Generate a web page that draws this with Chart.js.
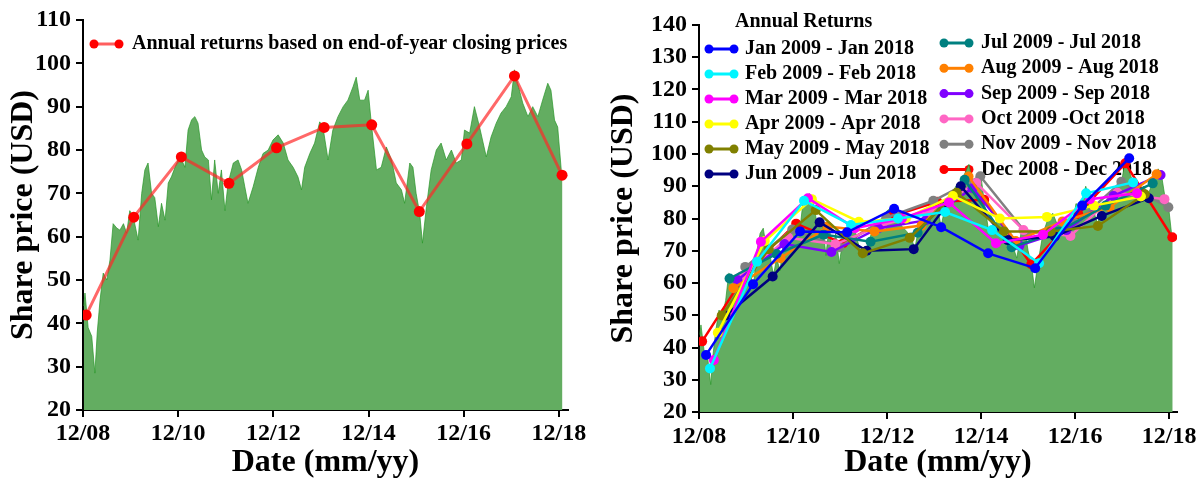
<!DOCTYPE html>
<html lang="en">
<head>
<meta charset="UTF-8" />
<title>Share price and annual returns</title>
<script src="https://cdn.jsdelivr.net/npm/chart.js"></script>
<style>
  body { margin: 0; background: #fff; }
  #wrap { position: relative; width: 1203px; height: 482px; }
  canvas { position: absolute; top: 0; }
  #left { left: 0; }
  #right { left: 600px; }
</style>
</head>
<body>
<div id="wrap">
  <canvas id="left" width="600" height="482"></canvas>
  <canvas id="right" width="603" height="482"></canvas>
</div>
<script>
  // months counted from 12/08
  const tickMonths = [0, 24, 48, 72, 96, 120];
  const tickLabels = ['12/08', '12/10', '12/12', '12/14', '12/16', '12/18'];

  // daily share price (roughly monthly)
  const priceMonths = [0.2, 0.5, 1.3, 2.2, 3.0, 3.6, 4.3, 5.1, 6.0, 6.8,
    7.6, 8.5, 9.3, 10.2, 11.0, 11.8, 12.7, 13.9, 14.8, 15.6,
    16.4, 17.3, 18.1, 19.0, 19.8, 20.7, 21.5, 22.3, 23.2, 24.0,
    24.9, 25.7, 26.5, 27.4, 28.2, 29.0, 29.9, 30.7, 31.6, 32.4,
    33.2, 34.1, 34.9, 35.8, 36.6, 37.9, 39.1, 40.0, 40.8, 41.6,
    42.9, 44.2, 45.4, 46.7, 47.9, 49.2, 50.5, 51.7, 53.0, 54.2,
    55.1, 55.9, 57.2, 58.4, 59.7, 60.5, 61.8, 63.0, 64.3, 65.6,
    66.8, 68.1, 68.9, 69.8, 71.0, 71.9, 72.7, 74.0, 75.2, 76.5,
    77.8, 79.0, 80.3, 81.1, 82.4, 83.2, 84.0, 84.9, 85.6, 86.6,
    87.8, 89.1, 90.3, 91.6, 92.9, 94.1, 95.4, 96.2, 97.5, 98.7,
    100.0, 101.7, 102.9, 104.2, 105.4, 106.7, 108.0, 108.8, 109.6, 110.9,
    112.2, 113.4, 114.7, 115.9, 117.2, 118.0, 118.9, 119.7, 120.6, 120.9];
  const priceValues = [44, 47, 39, 37, 28.5, 38, 45.4, 51.6, 50, 54.6,
    63, 62, 61.5, 63, 60.8, 66, 64.5, 59.2, 70, 75.4,
    77, 70, 69, 62.3, 67.7, 63.8, 72.4, 73.8, 76, 77.7,
    77.7, 76, 84.6, 87, 87.7, 86.2, 80, 78.4, 77.7, 68.5,
    77.7, 70, 75.4, 66, 72.4, 77, 77.7, 75.4, 71.5, 67.7,
    71.5, 76, 79.2, 80, 82.3, 83.5, 81.6, 77.7, 76, 73.8,
    70.8, 76, 79.2, 81.6, 86.5, 85.3, 77.7, 84.6, 87.7, 90,
    91.5, 94.6, 96.8, 91.5, 91.5, 93.8, 86.2, 75.4, 76, 80.7,
    77.7, 72.4, 70.8, 67.7, 77, 76, 70, 65.4, 58.5, 66.9,
    75.4, 80, 81.6, 77.7, 80, 77, 77.7, 84.6, 83.9, 90,
    85.3, 78.4, 83, 86.2, 88.5, 90, 92.3, 98.5, 95.4, 90.8,
    87.7, 90, 87.7, 91.5, 95.4, 93.8, 86.9, 85.3, 75.4, 74];

  // end-of-year closing prices, Dec 2008 .. Dec 2018
  const closeMonths = [0.8, 12.8, 24.8, 36.8, 48.8, 60.8, 72.8, 84.8, 96.8, 108.8, 120.8];
  const closeValues = [41.9, 64.5, 78.4, 72.3, 80.5, 85.2, 85.8, 65.8, 81.4, 97.1, 74.2];

  // annual returns for each month, 2009 .. 2018
  const janValues = [37.7, 59.6, 76, 75.7, 83, 77.3, 69.2, 64.6, 84, 98.7];
  const febValues = [33.5, 66.6, 85.5, 78, 80, 82, 76.4, 66.1, 87.8, 91.2];
  const marValues = [36.1, 72.8, 86.3, 77, 80, 85, 72.3, 75, 86, 87.8];
  const aprValues = [44.6, 73, 86, 79, 80, 87, 80, 80.5, 84, 86.8];
  const mayValues = [49.9, 70.5, 82.6, 69.2, 74, 88, 76, 76, 77.7, 87.5];
  const junValues = [49.9, 62, 78.8, 70, 70.5, 90, 73.3, 74.4, 80.8, 86.3];
  const julValues = [61.4, 69, 75, 72.8, 75.6, 92, 71.1, 76, 84, 90.9];
  const augValues = [58.4, 67.7, 77.5, 76, 77.8, 93, 73, 79.1, 83.5, 93.7];
  const sepValues = [60.9, 72.1, 69.6, 77, 79.4, 89.4, 71.6, 76.4, 87, 93.5];
  const octValues = [62, 74, 72, 78, 82, 91, 76.4, 74.6, 88, 86];
  const novValues = [65, 76.6, 71.1, 80.3, 85.5, 93.1, 75, 78.2, 91.4, 83.5];
  const decValues = closeValues;

  const seriesNames = ['Jan 2009 - Jan 2018', 'Feb 2009 - Feb 2018', 'Mar 2009 - Mar 2018',
    'Apr 2009 - Apr 2018', 'May 2009 - May 2018', 'Jun 2009 - Jun 2018',
    'Jul 2009 - Jul 2018', 'Aug 2009 - Aug 2018', 'Sep 2009 - Sep 2018',
    'Oct 2009 -Oct 2018', 'Nov 2009 - Nov 2018', 'Dec 2008 - Dec 2018'];
  const seriesColors = ['#0000ff', '#00f5ff', '#ff00ff', '#ffff00', '#808000', '#000080',
    '#008080', '#ff8000', '#8000ff', '#ff66c4', '#808080', '#ff0000'];
  const seriesStart = [1.8, 2.8, 3.8, 4.8, 5.8, 6.8, 7.8, 8.8, 9.8, 10.8, 11.8, 0.8];
  const seriesValues = [janValues, febValues, marValues, aprValues, mayValues, junValues,
    julValues, augValues, sepValues, octValues, novValues, decValues];

  const green = 'rgb(99,173,97)';
  const serif = "'Liberation Serif', 'Times New Roman', serif";

  Chart.defaults.font.family = serif;
  Chart.defaults.font.weight = 'bold';
  Chart.defaults.color = '#000';

  const boxLegend = {
    id: 'boxLegend',
    beforeDatasetsDraw(chart, args, o) {
      if (!o.items) return;
      const ctx = chart.ctx, a = chart.chartArea;
      ctx.save();
      ctx.font = 'bold 20px ' + serif;
      ctx.textBaseline = 'middle';
      ctx.fillStyle = '#000';
      if (o.title) ctx.fillText(o.title, a.left + o.titleX, a.top + o.titleY);
      o.items.forEach(it => {
        const y = a.top + it.y;
        ctx.strokeStyle = it.line;
        ctx.lineWidth = 3;
        ctx.beginPath();
        ctx.moveTo(a.left + it.x1, y);
        ctx.lineTo(a.left + it.x2, y);
        ctx.stroke();
        ctx.fillStyle = it.dot;
        [it.x1, it.x2].forEach(x => {
          ctx.beginPath();
          ctx.arc(a.left + x, y, 4.5, 0, Math.PI * 2);
          ctx.fill();
        });
        ctx.fillStyle = '#000';
        ctx.fillText(it.text, a.left + it.tx, y);
      });
      ctx.restore();
    }
  };

  function makeScales(yMin, yMax, xMax, yWidth, xHeight, xPad) {
    return {
      x: {
        type: 'linear', min: 0, max: xMax,
        afterBuildTicks: s => { s.ticks = tickMonths.map(v => ({ value: v })); },
        afterFit: s => { s.height = xHeight; },
        ticks: {
          callback: (v, i) => tickLabels[i],
          font: { size: 24, weight: 'bold' }, padding: xPad, maxRotation: 0, autoSkip: false
        },
        grid: { drawOnChartArea: false, tickLength: 7, color: '#000', lineWidth: 2 },
        border: { color: '#000', width: 2 },
        title: { display: true, text: 'Date (mm/yy)', font: { size: 32, weight: 'bold', lineHeight: 1 }, padding: { top: 0, bottom: 3 } }
      },
      y: {
        min: yMin, max: yMax,
        afterFit: s => { s.width = yWidth; },
        ticks: { stepSize: 10, font: { size: 24, weight: 'bold' }, padding: 5 },
        grid: { drawOnChartArea: false, tickLength: 7, color: '#000', lineWidth: 2 },
        border: { color: '#000', width: 2 },
        title: { display: true, text: 'Share price (USD)', font: { size: 32, weight: 'bold', lineHeight: 1 }, padding: { top: 8, bottom: 0 } }
      }
    };
  }

  function priceDataset() {
    return {
      data: priceMonths.map((m, i) => ({ x: m, y: priceValues[i] })),
      fill: 'start',
      backgroundColor: green,
      borderColor: 'rgba(40,150,40,0.7)',
      borderWidth: 1,
      pointRadius: 0,
      tension: 0,
      order: 99
    };
  }

  new Chart(document.getElementById('left'), {
    type: 'line',
    data: {
      datasets: [{
        data: closeMonths.map((m, i) => ({ x: m, y: closeValues[i] })),
        borderColor: 'rgba(255,40,40,0.7)',
        borderWidth: 3,
        backgroundColor: '#ff0000',
        pointBackgroundColor: '#ff0000',
        pointBorderWidth: 0,
        pointRadius: 5.5,
        tension: 0,
        fill: false
      }, priceDataset()]
    },
    options: {
      responsive: false, animation: false, devicePixelRatio: 1,
      layout: { padding: { left: 0, top: 20, right: 32, bottom: 0 } },
      scales: makeScales(20, 110, 122.3, 83, 72, 2),
      plugins: {
        legend: { display: false },
        tooltip: { enabled: false },
        boxLegend: {
          items: [{ text: 'Annual returns based on end-of-year closing prices', x1: 11, x2: 36, tx: 49, y: 24,
            line: 'rgba(255,40,40,0.75)', dot: '#ff0000' }]
        }
      }
    },
    plugins: [boxLegend]
  });

  const rightSets = seriesValues.map((vals, k) => ({
    data: vals.map((v, i) => ({ x: seriesStart[k] + 12 * i, y: v })),
    borderColor: seriesColors[k],
    backgroundColor: seriesColors[k],
    pointBackgroundColor: seriesColors[k],
    pointBorderWidth: 0,
    pointRadius: 5,
    borderWidth: 2.5,
    tension: 0,
    fill: false
  }));
  rightSets.push(priceDataset());

  const rightItems = seriesNames.map((name, k) => {
    const col = k < 6 ? 0 : 1, row = k % 6;
    return {
      text: name,
      x1: col ? 245 : 10, x2: col ? 270 : 35, tx: col ? 282 : 46,
      y: col ? 18 + 25.3 * row : 24 + 25 * row,
      line: seriesColors[k], dot: seriesColors[k]
    };
  });

  new Chart(document.getElementById('right'), {
    type: 'line',
    data: { datasets: rightSets },
    options: {
      responsive: false, animation: false, devicePixelRatio: 1,
      layout: { padding: { left: 0, top: 25, right: 26, bottom: 0 } },
      scales: makeScales(20, 140, 122, 99, 70, 3),
      plugins: {
        legend: { display: false },
        tooltip: { enabled: false },
        boxLegend: { title: 'Annual Returns', titleX: 36, titleY: -3, items: rightItems }
      }
    },
    plugins: [boxLegend]
  });
</script>
</body>
</html>
